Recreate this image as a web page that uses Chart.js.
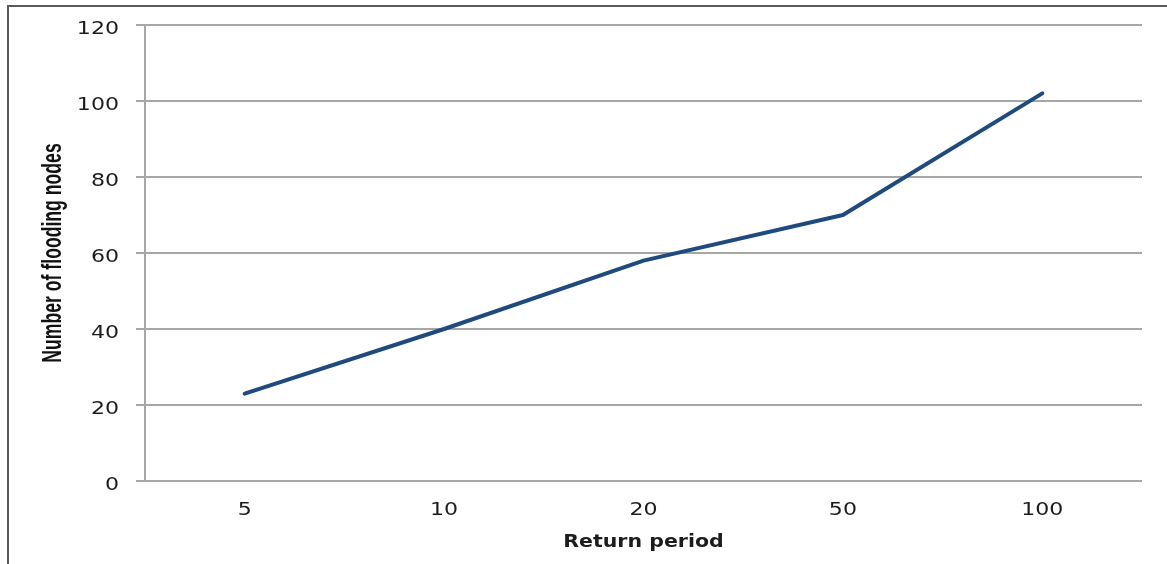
<!DOCTYPE html>
<html>
<head>
<meta charset="utf-8">
<script src="https://cdn.jsdelivr.net/npm/chart.js@4.4.1/dist/chart.umd.min.js"></script>
<style>
  html, body { margin: 0; padding: 0; background: #ffffff; }
  #wrap { position: relative; width: 1167px; height: 564px; background: #ffffff; overflow: hidden; }
  #frame { position: absolute; left: 7px; top: 5px; right: -4px; bottom: -4px;
           border-top: 2px solid #5a5a5a; border-left: 2px solid #5a5a5a; pointer-events: none; }
  canvas { position: absolute; left: 0; top: 0; }
</style>
</head>
<body>
<div id="wrap">
  <canvas id="chart" width="1167" height="564"></canvas>
  <div id="frame"></div>
</div>
<script>
// Return periods (years) and the count of flooded nodes for each
const returnPeriods = ['5', '10', '20', '50', '100'];
const floodingNodes = [23, 40, 58, 70, 102];
const yTicks = [0, 20, 40, 60, 80, 100, 120];
const xAxisTitle = 'Return period';
const yAxisTitle = 'Number of flooding nodes';

const gridGrey = '#a6a6a6';
const textDark = '#1c1c1c';

// Text drawn with a horizontal stretch, in the wide look of the original figure
function drawStretched(ctx, text, x, y, o) {
  ctx.save();
  ctx.translate(x, y);
  if (o.rotate) ctx.rotate(o.rotate);
  ctx.scale(o.sx, o.sy);
  ctx.font = o.font;
  ctx.fillStyle = o.color;
  ctx.textAlign = o.align;
  ctx.textBaseline = 'alphabetic';
  ctx.fillText(text, 0, 0);
  ctx.restore();
}

const axisText = {
  id: 'axisText',
  afterDraw(chart) {
    const { ctx, scales: { x, y } } = chart;
    const tickFont = '17px "DejaVu Sans"';
    // value labels on the left axis
    y.ticks.forEach((t) => {
      drawStretched(ctx, String(t.value), y.right - 26, y.getPixelForValue(t.value) + 8.5,
        { font: tickFont, color: textDark, align: 'right', sx: 1.3, sy: 1 });
    });
    // category labels under the plot
    x.ticks.forEach((t, i) => {
      drawStretched(ctx, x.getLabelForValue(t.value), x.getPixelForTick(i), x.top + 34,
        { font: tickFont, color: textDark, align: 'center', sx: 1.3, sy: 1 });
    });
    // axis titles
    drawStretched(ctx, xAxisTitle, (x.left + x.right) / 2, x.top + 66,
      { font: 'bold 18px "DejaVu Sans"', color: textDark, align: 'center', sx: 1.14, sy: 1 });
    drawStretched(ctx, yAxisTitle, y.left + 61, (y.top + y.bottom) / 2,
      { font: 'bold 21.5px "Liberation Sans"', color: '#111111', align: 'center',
        rotate: -Math.PI / 2, sx: 0.82, sy: 1.27 });
  }
};

new Chart(document.getElementById('chart'), {
  type: 'line',
  data: {
    labels: returnPeriods,
    datasets: [{
      data: floodingNodes,
      borderColor: '#1f4a7e',
      borderWidth: 4,
      borderCapStyle: 'round',
      borderJoinStyle: 'round',
      pointRadius: 0,
      tension: 0,
      fill: false
    }]
  },
  plugins: [axisText],
  options: {
    responsive: false,
    animation: false,
    devicePixelRatio: 1,
    layout: { padding: { left: 0, right: 25, top: 25, bottom: 0 } },
    plugins: { legend: { display: false }, tooltip: { enabled: false } },
    scales: {
      x: {
        offset: true,
        grid: { display: false, drawTicks: false },
        border: { display: false },
        ticks: { display: false },
        afterFit: (s) => { s.height = 83; }
      },
      y: {
        min: 0,
        max: 120,
        afterBuildTicks: (s) => { s.ticks = yTicks.map(v => ({ value: v })); },
        grid: { color: gridGrey, lineWidth: 2, tickLength: 9, drawTicks: true },
        border: { display: true, color: gridGrey, width: 2 },
        ticks: { display: false },
        afterFit: (s) => { s.width = 145; }
      }
    }
  }
});
</script>
</body>
</html>
